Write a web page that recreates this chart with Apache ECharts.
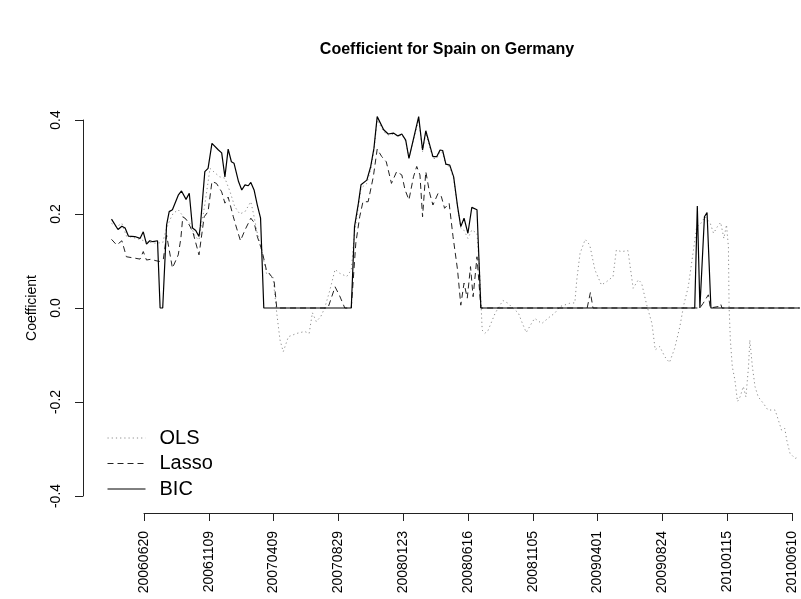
<!DOCTYPE html>
<html>
<head>
<meta charset="utf-8">
<script src="https://cdn.jsdelivr.net/npm/echarts@6/dist/echarts.min.js"></script>
<style>
  html, body { margin: 0; padding: 0; background: #fff; }
  #chart { width: 801px; height: 599px; }
</style>
</head>
<body>
<div id="chart"></div>
<script>
// x = observation index, one tick label every 100 obs (tick k at obs 50 + 100k)
var tickLabels = ['20060620', '20061109', '20070409', '20070829', '20080123', '20080616',
  '20081105', '20090401', '20090824', '20100115', '20100610'];
var yTicks = [-0.4, -0.2, 0.0, 0.2, 0.4];

var olsData = [
  [0, 0.180], [8, 0.173], [16, 0.180], [23, 0.153], [33, 0.150], [46, 0.145], [54, 0.141], [67, 0.138],
  [79, 0.139], [84, 0.166], [90, 0.187], [95, 0.201], [103, 0.209], [111, 0.194], [121, 0.180], [129, 0.152],
  [135, 0.145], [144, 0.220], [152, 0.297], [160, 0.287], [167, 0.279], [175, 0.276], [183, 0.247], [190, 0.216],
  [198, 0.200], [206, 0.205], [215, 0.226], [219, 0.201], [225, 0.159], [232, 0.120], [239, 0.074], [249, 0.067],
  [255, -0.011], [260, -0.068], [265, -0.093], [273, -0.061], [286, -0.054], [298, -0.050], [305, -0.054],
  [310, -0.010], [316, -0.029], [323, -0.018], [329, 0.000], [337, 0.038], [345, 0.082], [352, 0.074],
  [363, 0.067], [370, 0.081], [375, 0.160], [381, 0.215], [385, 0.255], [394, 0.265], [400, 0.295],
  [405, 0.335], [410, 0.400], [420, 0.375], [427, 0.368], [435, 0.370], [442, 0.365], [448, 0.368],
  [454, 0.355], [459, 0.320], [474, 0.400], [480, 0.333], [485, 0.372], [496, 0.318], [502, 0.318],
  [507, 0.333], [511, 0.330], [516, 0.304], [522, 0.300], [528, 0.275], [534, 0.215], [539, 0.170],
  [544, 0.165], [550, 0.148], [556, 0.166], [564, 0.159], [568, 0.080], [572, -0.047], [576, -0.054],
  [581, -0.048], [592, -0.011], [604, 0.016], [612, 0.010], [617, 0.003], [628, -0.011], [633, -0.029],
  [640, -0.052], [648, -0.033], [653, -0.022], [664, -0.033], [677, -0.018], [684, -0.011], [692, 0.003],
  [707, 0.010], [715, 0.011], [718, 0.060], [723, 0.116], [731, 0.146], [738, 0.134], [746, 0.081],
  [756, 0.049], [764, 0.056], [774, 0.067], [779, 0.123], [787, 0.120], [797, 0.122], [805, 0.042],
  [813, 0.060], [818, 0.053], [826, 0.006], [834, -0.033], [839, -0.089], [846, -0.082], [854, -0.104],
  [861, -0.116], [869, -0.086], [877, -0.040], [883, 0.006], [890, 0.045], [898, 0.123], [903, 0.173],
  [908, 0.177], [916, 0.194], [924, 0.180], [929, 0.159], [935, 0.173], [940, 0.182], [945, 0.148],
  [949, 0.177], [952, 0.130], [953, 0.003], [955, -0.068], [958, -0.125], [962, -0.153], [966, -0.199],
  [970, -0.189], [975, -0.167], [979, -0.189], [983, -0.125], [985, -0.068], [989, -0.125], [993, -0.167],
  [998, -0.189], [1006, -0.203], [1013, -0.217], [1024, -0.217], [1029, -0.238], [1034, -0.260],
  [1039, -0.256], [1042, -0.281], [1047, -0.309], [1055, -0.320], [1061, -0.316]
];

var lassoData = [
  [0, 0.146], [8, 0.134], [16, 0.143], [23, 0.109], [36, 0.106], [44, 0.104], [49, 0.120], [54, 0.102],
  [62, 0.104], [67, 0.101], [74, 0.099], [80, 0.104], [85, 0.155], [94, 0.085], [103, 0.113], [107, 0.148],
  [110, 0.194], [115, 0.189], [121, 0.174], [126, 0.159], [135, 0.113], [143, 0.194], [149, 0.205],
  [155, 0.269], [162, 0.265], [170, 0.247], [175, 0.223], [180, 0.236], [188, 0.194], [193, 0.170],
  [199, 0.143], [206, 0.166], [215, 0.191], [220, 0.182], [225, 0.152], [232, 0.123], [239, 0.081],
  [247, 0.067], [251, 0.056], [255, 0.000], [334, 0.000], [345, 0.045], [352, 0.026], [360, 0.000],
  [370, 0.000], [377, 0.138], [383, 0.194], [388, 0.226], [396, 0.226], [404, 0.279], [410, 0.338],
  [417, 0.322], [424, 0.311], [432, 0.265], [440, 0.290], [448, 0.283], [453, 0.251], [459, 0.230],
  [466, 0.279], [471, 0.301], [476, 0.283], [480, 0.194], [485, 0.290], [491, 0.244], [496, 0.219],
  [504, 0.244], [509, 0.237], [514, 0.212], [521, 0.223], [527, 0.152], [534, 0.081], [539, 0.006],
  [544, 0.053], [549, 0.021], [554, 0.088], [558, 0.024], [564, 0.109], [570, 0.000], [734, 0.000],
  [739, 0.033], [743, 0.000], [908, 0.000], [913, 0.010], [921, 0.028], [924, 0.000], [936, 0.003],
  [940, 0.009], [942, 0.000], [1062, 0.000]
];

var bicData = [
  [0, 0.189], [10, 0.167], [16, 0.174], [21, 0.170], [26, 0.153], [36, 0.152], [44, 0.148], [49, 0.162],
  [54, 0.136], [59, 0.143], [64, 0.141], [67, 0.145], [71, 0.143], [75, 0.000], [79, 0.000], [85, 0.177],
  [89, 0.205], [94, 0.209], [103, 0.240], [108, 0.249], [115, 0.231], [120, 0.244], [125, 0.170],
  [130, 0.165], [135, 0.152], [137, 0.173], [144, 0.290], [149, 0.297], [155, 0.350], [165, 0.336],
  [170, 0.330], [175, 0.279], [180, 0.338], [185, 0.311], [189, 0.308], [196, 0.269], [201, 0.251],
  [206, 0.262], [211, 0.260], [215, 0.267], [220, 0.251], [225, 0.219], [230, 0.191], [235, 0.000],
  [370, 0.000], [375, 0.173], [381, 0.223], [385, 0.262], [394, 0.272], [400, 0.301], [405, 0.340],
  [410, 0.407], [420, 0.379], [427, 0.370], [435, 0.372], [442, 0.366], [448, 0.370], [454, 0.357],
  [459, 0.318], [474, 0.407], [480, 0.336], [485, 0.377], [496, 0.322], [502, 0.322], [507, 0.336],
  [511, 0.335], [516, 0.306], [522, 0.304], [528, 0.279], [534, 0.216], [539, 0.173], [544, 0.191],
  [550, 0.159], [556, 0.214], [564, 0.209], [570, 0.000], [900, 0.000], [904, 0.217], [908, 0.000],
  [911, 0.000], [915, 0.194], [919, 0.203], [925, 0.000], [1062, 0.000]
];

var FONT = 'Liberation Sans, Arial, Helvetica, sans-serif';
var AXIS_COLOR = '#222';

var chart = echarts.init(document.getElementById('chart'), null, { renderer: 'canvas' });

var option = {
  animation: false,
  backgroundColor: '#fff',
  textStyle: { fontFamily: FONT, color: '#000' },
  title: {
    text: 'Coefficient for Spain on Germany',
    left: 442,
    top: 37,
    textAlign: 'center',
    textStyle: { fontFamily: FONT, fontSize: 16, fontWeight: 'bold', color: '#000' }
  },
  legend: {
    orient: 'vertical',
    left: 102,
    top: 423,
    itemWidth: 38,
    itemHeight: 14,
    itemGap: 5.5,
    data: ['OLS', 'Lasso', 'BIC'],
    // hide the symbol dot, keep a thin line sample
    itemStyle: { opacity: 0 },
    lineStyle: { width: 1 },
    textStyle: { fontFamily: FONT, fontSize: 20, color: '#000', padding: [0, 0, 0, 9] }
  },
  grid: [
    // plot area
    { left: 83, right: 0, top: 103, bottom: 86 },
    // y axis frame (-0.4 .. 0.4)
    { left: 83, top: 120, height: 376, width: 10 },
    // x axis frame (first to last tick)
    { left: 144, width: 648, top: 503, height: 10 }
  ],
  xAxis: [
    { gridIndex: 0, type: 'value', min: -44, max: 1064, show: false },
    { gridIndex: 1, type: 'value', min: 0, max: 1, show: false },
    {
      gridIndex: 2, type: 'value', min: 50, max: 1050, interval: 100,
      axisLine: { show: true, onZero: false, lineStyle: { color: AXIS_COLOR, width: 1 } },
      axisTick: { show: true, length: 8, lineStyle: { color: AXIS_COLOR } },
      splitLine: { show: false },
      axisLabel: {
        rotate: 90, margin: 18, fontSize: 14, fontFamily: FONT, color: '#000',
        showMinLabel: true, showMaxLabel: true,
        formatter: function (v) { return tickLabels[Math.round((v - 50) / 100)]; }
      }
    }
  ],
  yAxis: [
    { gridIndex: 0, type: 'value', min: -0.436, max: 0.436, show: false },
    {
      gridIndex: 1, type: 'value', min: yTicks[0], max: yTicks[yTicks.length - 1], interval: 0.2,
      name: 'Coefficient', nameLocation: 'middle', nameRotate: 90, nameGap: 44,
      nameTextStyle: { fontFamily: FONT, fontSize: 14, color: '#000' },
      axisLine: { show: true, onZero: false, lineStyle: { color: AXIS_COLOR, width: 1 } },
      axisTick: { show: true, length: 8, lineStyle: { color: AXIS_COLOR } },
      splitLine: { show: false },
      axisLabel: {
        rotate: 90, margin: 20, fontSize: 14, fontFamily: FONT, color: '#000',
        showMinLabel: true, showMaxLabel: true,
        formatter: function (v) { return v.toFixed(1); }
      }
    },
    { gridIndex: 2, type: 'value', min: 0, max: 1, show: false }
  ],
  series: [
    {
      name: 'OLS', type: 'line', xAxisIndex: 0, yAxisIndex: 0,
      data: olsData, symbol: 'none', smooth: false,
      itemStyle: { color: '#8c8c8c' },
      lineStyle: { color: '#8c8c8c', width: 1, type: [1.2, 3] }
    },
    {
      name: 'Lasso', type: 'line', xAxisIndex: 0, yAxisIndex: 0,
      data: lassoData, symbol: 'none', smooth: false,
      itemStyle: { color: '#222' },
      lineStyle: { color: '#222', width: 1, type: [6, 4] }
    },
    {
      name: 'BIC', type: 'line', xAxisIndex: 0, yAxisIndex: 0,
      data: bicData, symbol: 'none', smooth: false,
      itemStyle: { color: '#000' },
      lineStyle: { color: '#000', width: 1.2, type: 'solid' }
    }
  ]
};

chart.setOption(option);
</script>
</body>
</html>
